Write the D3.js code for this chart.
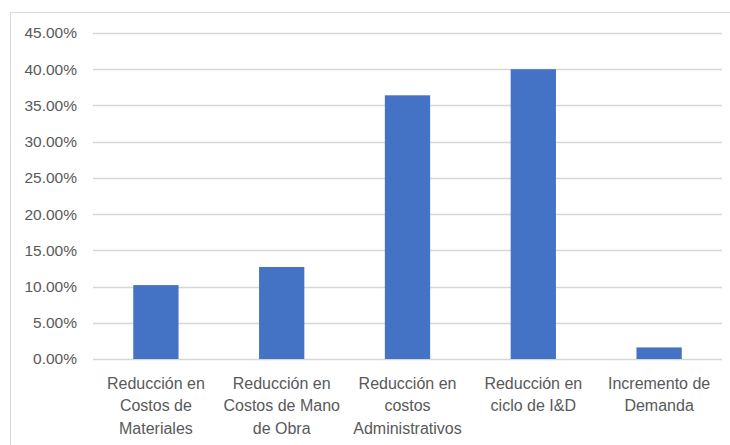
<!DOCTYPE html>
<html>
<head>
<meta charset="utf-8">
<script src="https://cdn.jsdelivr.net/npm/d3@7"></script>
<style>
  html, body { margin: 0; padding: 0; background: #fff; }
  svg { display: block; }
  text { font-family: "Liberation Sans", Arial, sans-serif; fill: #595959; }
</style>
</head>
<body>
<svg id="chart" width="730" height="445"></svg>
<script>
// Categories and their wrapped label lines
const categories = [
  "Reducción en Costos de Materiales",
  "Reducción en Costos de Mano de Obra",
  "Reducción en costos Administrativos",
  "Reducción en ciclo de I&D",
  "Incremento de Demanda"
];
const categoryLines = [
  ["Reducción en", "Costos de", "Materiales"],
  ["Reducción en", "Costos de Mano", "de Obra"],
  ["Reducción en", "costos", "Administrativos"],
  ["Reducción en", "ciclo de I&D"],
  ["Incremento de", "Demanda"]
];
const values = [0.102, 0.127, 0.364, 0.400, 0.016];
const yTicks = [0, 0.05, 0.10, 0.15, 0.20, 0.25, 0.30, 0.35, 0.40, 0.45];

const svg = d3.select("#chart");
const plotLeft = 93, plotRight = 722, plotTop = 33, plotBottom = 359;

// Outer chart frame
svg.append("rect")
  .attr("x", 10.5).attr("y", 12.5)
  .attr("width", 730).attr("height", 440)
  .attr("fill", "none").attr("stroke", "#d9d9d9").attr("stroke-width", 1);

const x = d3.scaleBand()
  .domain(categories)
  .range([plotLeft, plotRight])
  .paddingInner(0.64)
  .paddingOuter(0.32);

const y = d3.scaleLinear().domain([0, 0.45]).range([plotBottom, plotTop]);

// Horizontal gridlines
svg.append("g")
  .selectAll("line")
  .data(yTicks)
  .join("line")
  .attr("x1", plotLeft).attr("x2", plotRight)
  .attr("y1", d => Math.round(y(d)) + 0.5)
  .attr("y2", d => Math.round(y(d)) + 0.5)
  .attr("stroke", "#d6d6d6").attr("stroke-width", 1.3);

// Y axis labels
const fmt = d3.format(".2%");
const yAxis = d3.axisLeft(y).tickValues(yTicks).tickFormat(fmt).tickSize(0).tickPadding(0);
const gy = svg.append("g").attr("transform", "translate(77,0)").call(yAxis);
gy.select(".domain").remove();
gy.selectAll("text")
  .attr("font-size", 15.5)
  .attr("font-family", "Liberation Sans, Arial, sans-serif")
  .attr("fill", "#595959");

// Bars
svg.append("g")
  .selectAll("rect")
  .data(values)
  .join("rect")
  .attr("x", (d, i) => x(categories[i]))
  .attr("width", x.bandwidth())
  .attr("y", d => y(d))
  .attr("height", d => y(0) - y(d))
  .attr("fill", "#4472c4");

// Category labels
const labels = svg.append("g")
  .selectAll("text")
  .data(categories)
  .join("text")
  .attr("text-anchor", "middle")
  .attr("font-size", 16)
  .attr("x", d => x(d) + x.bandwidth() / 2)
  .attr("y", 388.5);

labels.each(function(d, i) {
  d3.select(this).selectAll("tspan")
    .data(categoryLines[i])
    .join("tspan")
    .attr("x", x(d) + x.bandwidth() / 2)
    .attr("dy", (t, j) => j === 0 ? 0 : 22.5)
    .text(t => t);
});
</script>
</body>
</html>
